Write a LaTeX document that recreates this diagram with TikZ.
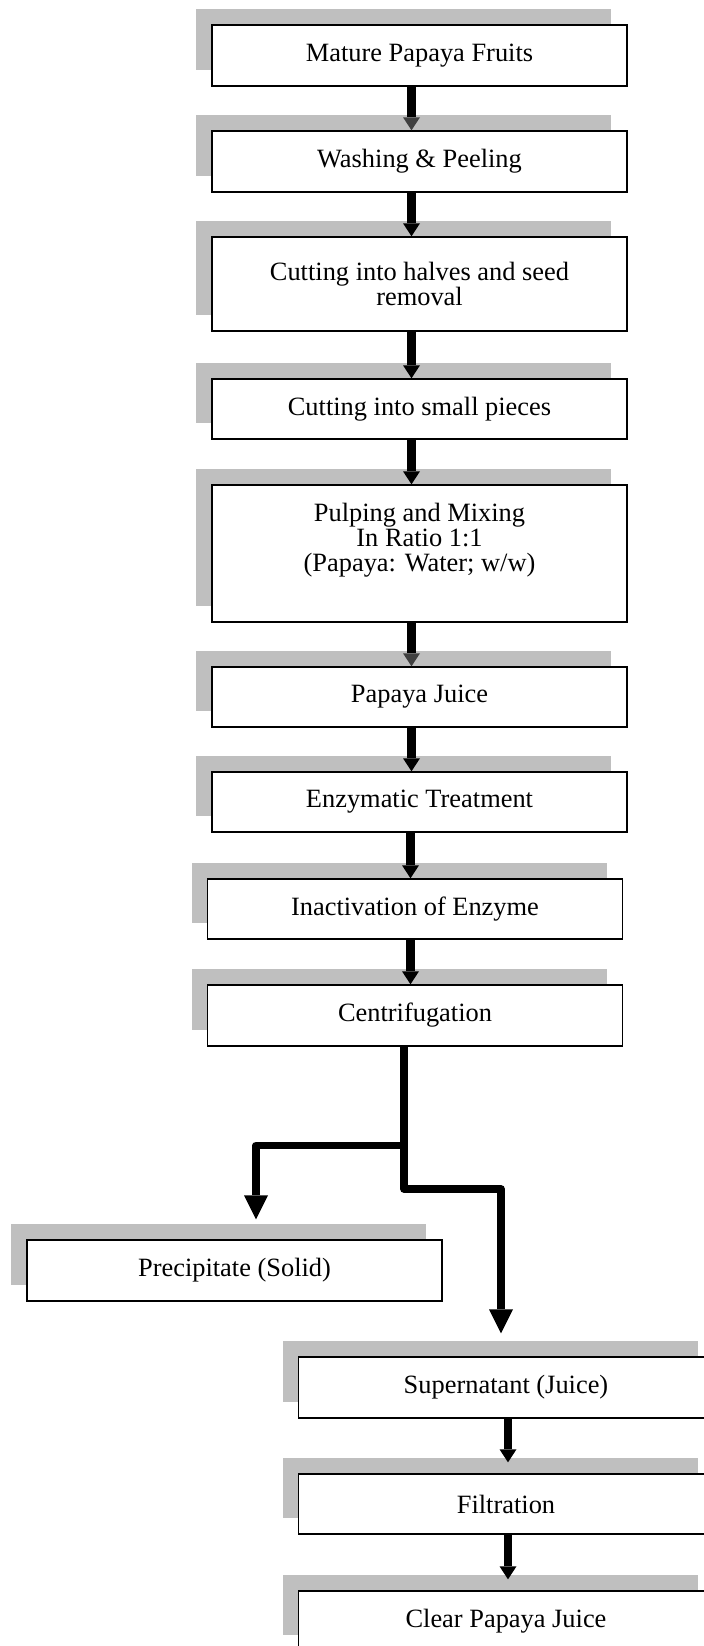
\documentclass[tikz,border=0pt]{standalone}
\usepackage{fontspec}
\setmainfont{Liberation Serif}
\usetikzlibrary{arrows.meta,shadows,calc}
\definecolor{shadowgray}{RGB}{191,191,191}
\definecolor{tipgray}{RGB}{64,64,64}
\begin{document}
\begin{tikzpicture}[x=0.5pt,y=-0.5pt,
  box/.style={draw=black, line width=0.7pt, fill=white, minimum width=207.5pt,
    inner sep=0pt, align=center, font=\fontsize{13.2pt}{12.5pt}\selectfont,
    drop shadow={shadow xshift=-8pt, shadow yshift=8pt, fill=shadowgray, opacity=1, draw=none}},
  txt/.style={inner sep=0pt, align=center, font=\fontsize{13.2pt}{12.5pt}\selectfont},
  arr/.style={line width=4.25pt, -{Triangle[width=8.5pt,length=6.5pt,line width=0pt]}},
  arrg/.style={line width=4.25pt, -{Triangle[width=8.5pt,length=6.5pt,line width=0pt,color=tipgray]}},
  br/.style={line width=3.75pt, line join=round, -{Triangle[width=12pt,length=12pt,line width=0pt]}}
]
\useasboundingbox (0,0) rectangle (704,1646);
\clip (0,0) rectangle (704,1646);

% boxes
\node[box, minimum height=30.5pt] (n1) at (419.5,55.5) {Mature Papaya Fruits};
\node[box, minimum height=30.5pt] (n2) at (419.5,161.5) {Washing \& Peeling};
\node[box, minimum height=47pt] (n3) at (419.5,284) {Cutting into halves and seed\\removal};
\node[box, minimum height=30pt] (n4) at (419.5,409) {Cutting into small pieces};
\node[box, minimum height=68.5pt] (n5) at (419.5,553.5) {};
\node[txt] (t5) at ([yshift=6.75pt]n5.center) {Pulping and Mixing\\In Ratio 1:1\\(Papaya: Water; w/w)};
\node[box, minimum height=30pt] (n6) at (419.5,697) {Papaya Juice};
\node[box, minimum height=30pt] (n7) at (419.5,802) {Enzymatic Treatment};
\node[box, minimum height=30pt] (n8) at (415,909) {Inactivation of Enzyme};
\node[box, minimum height=30.5pt] (n9) at (415,1015.5) {Centrifugation};
\node[box, minimum height=30.5pt] (n10) at (234.5,1270.5) {Precipitate (Solid)};
\node[box, minimum height=30.5pt] (n11) at (506,1387.5) {Supernatant (Juice)};
\node[box, minimum height=30pt] (n12) at (506,1504) {Filtration};
\node[box, minimum height=30pt] (n13) at (506,1621) {Clear Papaya Juice};

% columns and junctions
\coordinate (colA) at (411.5,0);
\coordinate (colB) at (410.5,0);
\coordinate (colC) at (508,0);
\coordinate (j1) at (404,1145.5);
\coordinate (j2) at (404,1189);

% straight connectors
\draw[arrg] (n1.south -| colA) -- (n2.north -| colA);
\draw[arr]  (n2.south -| colA) -- (n3.north -| colA);
\draw[arr]  (n3.south -| colA) -- (n4.north -| colA);
\draw[arr]  (n4.south -| colA) -- (n5.north -| colA);
\draw[arrg] (n5.south -| colA) -- (n6.north -| colA);
\draw[arr]  (n6.south -| colA) -- (n7.north -| colA);
\draw[arr]  (n7.south -| colB) -- (n8.north -| colB);
\draw[arr]  (n8.south -| colB) -- (n9.north -| colB);
\draw[arr, shorten >=5.5pt] (n11.south -| colC) -- (n12.north -| colC);
\draw[arr, shorten >=5.5pt] (n12.south -| colC) -- (n13.north -| colC);

% branch from centrifugation
\draw[br] (n9.south -| j1) -- (j1) -| ([xshift=10.75pt,yshift=10pt]n10.north);
\draw[br] (j1) -- (j2) -| ([xshift=-2.5pt,yshift=11.5pt]n11.north);
\end{tikzpicture}
\end{document}
